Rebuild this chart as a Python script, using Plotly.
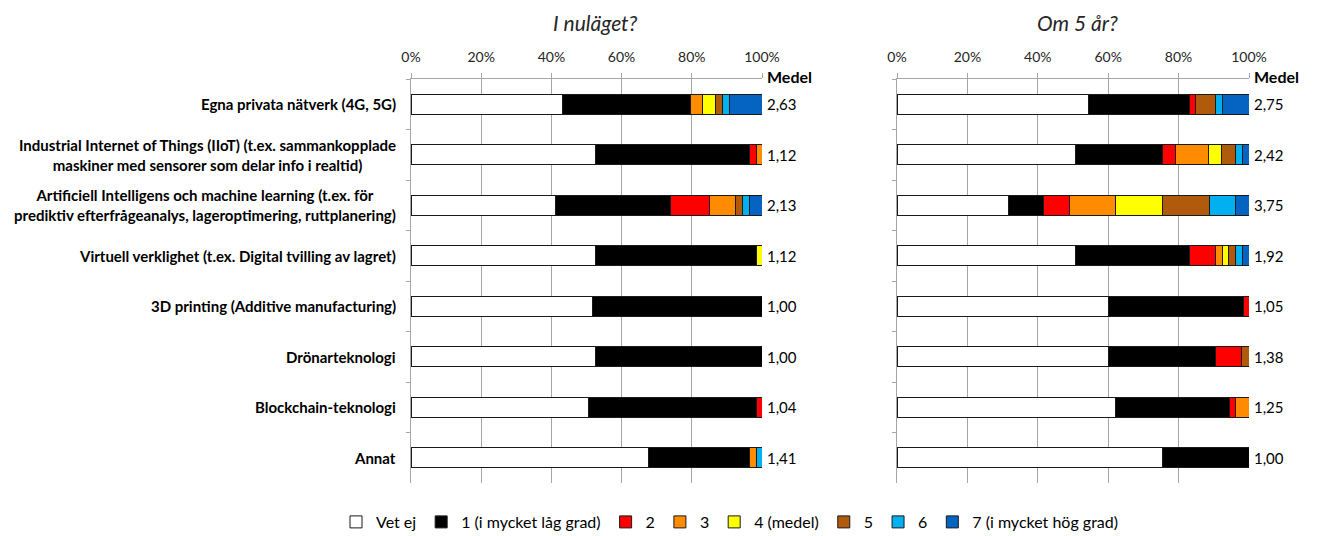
import plotly.graph_objects as go

# Page is rendered with an 8px body margin; figure coordinates = page coordinates - 8
W, H = 1310, 536
OFF = 8

categories = [
    "Egna privata nätverk (4G, 5G)",
    "Industrial Internet of Things (IIoT) (t.ex. sammankopplade<br>maskiner med sensorer som delar info i realtid)",
    "Artificiell Intelligens och machine learning (t.ex. för<br>prediktiv efterfrågeanalys, lageroptimering, ruttplanering)",
    "Virtuell verklighet (t.ex. Digital tvilling av lagret)",
    "3D printing (Additive manufacturing)",
    "Drönarteknologi",
    "Blockchain-teknologi",
    "Annat",
]

series_names = ["Vet ej", "1 (i mycket låg grad)", "2", "3", "4 (medel)", "5", "6", "7 (i mycket hög grad)"]
series_colors = ["#FFFFFF", "#000000", "#FF0000", "#FF8C00", "#FFFF00", "#B05A0C", "#00B0F0", "#0563C1"]

# I nuläget? (percent)
nu_vet_ej = [43.2, 52.5, 41.2, 52.5, 51.8, 52.6, 50.7, 67.8]
nu_1 = [36.3, 44.0, 32.6, 45.9, 48.2, 47.4, 47.7, 28.7]
nu_2 = [0.0, 1.8, 11.3, 0.0, 0.0, 0.0, 1.6, 0.0]
nu_3 = [3.5, 1.7, 7.3, 0.0, 0.0, 0.0, 0.0, 1.8]
nu_4 = [3.7, 0.0, 0.0, 1.6, 0.0, 0.0, 0.0, 0.0]
nu_5 = [2.0, 0.0, 2.0, 0.0, 0.0, 0.0, 0.0, 0.0]
nu_6 = [2.0, 0.0, 1.9, 0.0, 0.0, 0.0, 0.0, 1.7]
nu_7 = [9.3, 0.0, 3.7, 0.0, 0.0, 0.0, 0.0, 0.0]
nu_medel = ["2,63", "1,12", "2,13", "1,12", "1,00", "1,00", "1,04", "1,41"]

# Om 5 år? (percent)
om_vet_ej = [54.4, 50.7, 31.7, 50.7, 60.1, 60.1, 62.0, 75.3]
om_1 = [28.8, 24.8, 9.9, 32.5, 38.2, 30.5, 32.4, 24.7]
om_2 = [1.6, 3.6, 7.4, 7.3, 1.7, 7.4, 1.7, 0.0]
om_3 = [0.0, 9.5, 13.2, 1.9, 0.0, 0.0, 3.9, 0.0]
om_4 = [0.0, 3.7, 13.2, 1.8, 0.0, 0.0, 0.0, 0.0]
om_5 = [5.7, 3.8, 13.4, 1.9, 0.0, 2.0, 0.0, 0.0]
om_6 = [2.0, 2.1, 7.4, 2.1, 0.0, 0.0, 0.0, 0.0]
om_7 = [7.5, 1.8, 3.8, 1.8, 0.0, 0.0, 0.0, 0.0]
om_medel = ["2,75", "2,42", "3,75", "1,92", "1,05", "1,38", "1,25", "1,00"]

panel_titles = ["I nuläget?", "Om 5 år?"]
x_ticks = [0, 20, 40, 60, 80, 100]

nu_series = [nu_vet_ej, nu_1, nu_2, nu_3, nu_4, nu_5, nu_6, nu_7]
om_series = [om_vet_ej, om_1, om_2, om_3, om_4, om_5, om_6, om_7]

FONT = "Lato, 'Open Sans', sans-serif"
GRID = "#A6A6A6"

fig = go.Figure()
for i, (name, color) in enumerate(zip(series_names, series_colors)):
    fig.add_trace(go.Bar(
        y=categories, x=nu_series[i], orientation="h", name=name,
        marker=dict(color=color, line=dict(color="#1A1A1A", width=1)),
        xaxis="x", yaxis="y", legendgroup=name, showlegend=True,
        hovertemplate="%{x}%<extra>" + name + "</extra>",
    ))
    fig.add_trace(go.Bar(
        y=categories, x=om_series[i], orientation="h", name=name,
        marker=dict(color=color, line=dict(color="#1A1A1A", width=1)),
        xaxis="x2", yaxis="y2", legendgroup=name, showlegend=False,
        hovertemplate="%{x}%<extra>" + name + "</extra>",
    ))


def px_x(p):
    return (p - OFF) / W


def px_y(p):
    return 1 - (p - OFF) / H


xdom1 = [px_x(411), px_x(762)]
xdom2 = [px_x(897), px_x(1249)]
ydom = [px_y(483), px_y(79)]

xaxis_common = dict(
    range=[0, 100], side="top", tickvals=x_ticks, ticktext=[f"{v}%" for v in x_ticks],
    showgrid=True, gridcolor=GRID, gridwidth=1, showline=True, linecolor=GRID, linewidth=1,
    ticks="outside", ticklen=5, tickcolor=GRID, zeroline=False,
    tickfont=dict(family=FONT, size=14, color="#262626"), ticklabelstandoff=5,
    automargin=False, fixedrange=True,
)
yaxis_common = dict(
    categoryorder="array", categoryarray=categories, autorange="reversed",
    showticklabels=False, showgrid=False, showline=True, linecolor=GRID, linewidth=1,
    ticks="outside", ticklen=4, tickcolor=GRID, tickson="boundaries",
    domain=ydom, automargin=False, fixedrange=True, zeroline=False,
)

fig.update_layout(
    width=W, height=H,
    margin=dict(l=0, r=0, t=0, b=0),
    paper_bgcolor="white", plot_bgcolor="white",
    barmode="stack", bargap=0.6,
    font=dict(family=FONT, color="#000000"),
    xaxis=dict(domain=xdom1, anchor="y", **xaxis_common),
    xaxis2=dict(domain=xdom2, anchor="y2", **xaxis_common),
    yaxis=dict(anchor="x", **yaxis_common),
    yaxis2=dict(anchor="x2", **yaxis_common),
    legend=dict(
        orientation="h", x=px_x(730), xanchor="center", y=px_y(522), yanchor="middle",
        font=dict(family=FONT, size=16, color="#000000"), itemwidth=30,
        traceorder="normal", bgcolor="rgba(0,0,0,0)",
    ),
    showlegend=True,
)

annotations = []
# Panel titles
annotations.append(dict(text=f"<i>{panel_titles[0]}</i>", xref="paper", yref="paper",
                        x=px_x(595), y=px_y(22), xanchor="center", yanchor="middle",
                        showarrow=False, font=dict(family=FONT, size=21, color="#262626")))
annotations.append(dict(text=f"<i>{panel_titles[1]}</i>", xref="paper", yref="paper",
                        x=px_x(1077), y=px_y(22), xanchor="center", yanchor="middle",
                        showarrow=False, font=dict(family=FONT, size=21, color="#262626")))
# Category labels
for c in categories:
    annotations.append(dict(text=f"<b>{c}</b>", xref="paper", yref="y", x=px_x(398), y=c,
                            xanchor="right", yanchor="middle", align="center", showarrow=False,
                            font=dict(family=FONT, size=15, color="#000000")))
# Medel headers and values
for xa, ya, vals in [("x", "y", nu_medel), ("x2", "y2", om_medel)]:
    annotations.append(dict(text="<b>Medel</b>", xref=xa, yref="paper", x=100, y=px_y(76),
                            xanchor="left", yanchor="middle", xshift=3, showarrow=False,
                            font=dict(family=FONT, size=16, color="#000000")))
    for c, v in zip(categories, vals):
        annotations.append(dict(text=v, xref=xa, yref=ya, x=100, y=c, xanchor="left",
                                yanchor="middle", xshift=3, showarrow=False,
                                font=dict(family=FONT, size=15, color="#000000")))
fig.update_layout(annotations=annotations)

fig.write_html("out.html")
